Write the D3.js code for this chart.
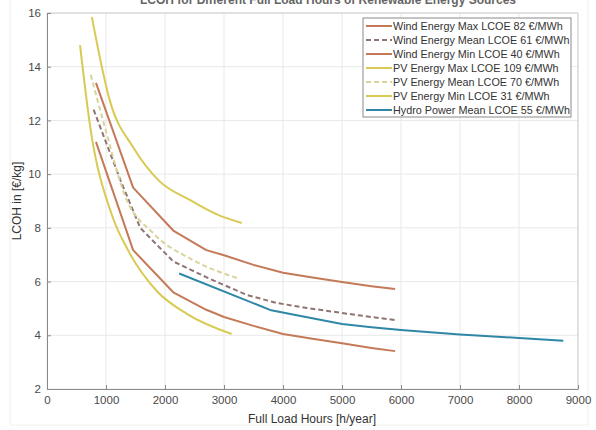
<!DOCTYPE html>
<html><head><meta charset="utf-8">
<script src="https://cdn.jsdelivr.net/npm/d3@7"></script>
<style>body{margin:0;background:#fff}svg{display:block;font-family:"Liberation Sans",Arial,sans-serif}</style>
</head><body><div id="c"></div>
<script>
// Data (full load hours [h/year], LCOH [€/kg])
const windMaxHours = [830,1460,2140,2700,3000,3500,4000,4500,5000,5500,5900];
const windMaxLcoh  = [13.4,9.5,7.9,7.17,6.98,6.62,6.33,6.15,5.98,5.83,5.72];
const windMeanHours = [790,1240,1580,2140,2760,3390,3900,4400,5000,5500,5900];
const windMeanLcoh  = [12.4,9.8,8.0,6.75,6.1,5.5,5.2,5.02,4.83,4.68,4.57];
const windMinHours = [830,1460,2140,2700,3000,3500,4000,4500,5000,5500,5900];
const windMinLcoh  = [11.2,7.17,5.6,4.95,4.68,4.35,4.05,3.87,3.7,3.53,3.41];
const pvMaxHours = [760,1070,1460,1900,2420,2880,3300];
const pvMaxLcoh  = [15.85,12.7,11.0,9.75,9.04,8.5,8.18];
const pvMeanHours = [740,1000,1320,1800,2475,3220];
const pvMeanLcoh  = [13.7,11.6,9.2,7.8,6.8,6.13];
const pvMinHours = [560,730,1100,1373,1860,2370,3130];
const pvMinLcoh  = [14.8,11.8,8.48,7.17,5.65,4.8,4.05];
const hydroHours = [2240,3800,4300,5000,5500,6000,7000,8000,8750];
const hydroLcoh  = [6.3,4.93,4.72,4.42,4.3,4.2,4.03,3.9,3.8];

const seriesNames = ["Wind Energy Max LCOE 82 €/MWh","Wind Energy Mean LCOE 61 €/MWh","Wind Energy Min LCOE 40 €/MWh",
  "PV Energy Max LCOE 109 €/MWh","PV Energy Mean LCOE 70 €/MWh","PV Energy Min LCOE 31 €/MWh","Hydro Power Mean LCOE 55 €/MWh"];
const xTicks = [0,1000,2000,3000,4000,5000,6000,7000,8000,9000];
const yTicks = [2,4,6,8,10,12,14,16];

const series = [
  {name:seriesNames[0], h:windMaxHours, v:windMaxLcoh, color:"#c47a58", dash:null, smooth:false},
  {name:seriesNames[1], h:windMeanHours, v:windMeanLcoh, color:"#8f7474", dash:"5,3", smooth:false},
  {name:seriesNames[2], h:windMinHours, v:windMinLcoh, color:"#c47a58", dash:null, smooth:false},
  {name:seriesNames[3], h:pvMaxHours, v:pvMaxLcoh, color:"#d8ca52", dash:null, smooth:true},
  {name:seriesNames[4], h:pvMeanHours, v:pvMeanLcoh, color:"#d9d49a", dash:"5,3", smooth:true},
  {name:seriesNames[5], h:pvMinHours, v:pvMinLcoh, color:"#d8ca52", dash:null, smooth:true},
  {name:seriesNames[6], h:hydroHours, v:hydroLcoh, color:"#2f87a6", dash:null, smooth:false}
];

const W=596,H=430;
const svg=d3.select("#c").append("svg").attr("width",W).attr("height",H);
svg.append("rect").attr("x",10).attr("y",-2).attr("width",578).attr("height",427).attr("fill","#fff").attr("stroke","#f0f0f0");

const x=d3.scaleLinear().domain([0,9000]).range([47,578]);
const y=d3.scaleLinear().domain([2,16]).range([389,13]);

// title (mostly clipped at top, as in the reference)
svg.append("text").attr("x",328).attr("y",4).attr("text-anchor","middle")
  .attr("font-size",12).attr("font-weight","bold").attr("fill","#666")
  .text("LCOH for Different Full Load Hours of Renewable Energy Sources");

// grid
const g=svg.append("g");
g.selectAll(".gx").data(xTicks).join("line").attr("x1",d=>x(d)).attr("x2",d=>x(d)).attr("y1",y(2)).attr("y2",y(16)).attr("stroke","#e8e8e8").attr("stroke-width",1);
g.selectAll(".gy").data(yTicks).join("line").attr("x1",x(0)).attr("x2",x(9000)).attr("y1",d=>y(d)).attr("y2",d=>y(d)).attr("stroke","#e8e8e8").attr("stroke-width",1);

// box
svg.append("line").attr("x1",x(0)).attr("x2",x(9000)).attr("y1",y(16)).attr("y2",y(16)).attr("stroke","#cfcfcf");
svg.append("line").attr("x1",x(9000)).attr("x2",x(9000)).attr("y1",y(2)).attr("y2",y(16)).attr("stroke","#cfcfcf");

// axes
const fmt=d3.format("d");
const xAxis=d3.axisBottom(x).tickValues(xTicks).tickFormat(fmt).tickSizeInner(-4).tickSizeOuter(0).tickPadding(7);
const ax=svg.append("g").attr("transform",`translate(0,${y(2)})`).call(xAxis);
const yAxis=d3.axisLeft(y).tickValues(yTicks).tickFormat(fmt).tickSizeInner(-4).tickSizeOuter(0).tickPadding(6);
const ay=svg.append("g").attr("transform",`translate(${x(0)},0)`).call(yAxis);
[ax,ay].forEach(a=>{a.select(".domain").attr("stroke","#8a8a8a");a.selectAll(".tick line").attr("stroke","#8a8a8a");
  a.selectAll("text").attr("fill","#4a4a4a").attr("font-size",11.5).attr("font-family","Liberation Sans, Arial, sans-serif");});

svg.append("text").attr("x",312).attr("y",423).attr("text-anchor","middle").attr("font-size",12).attr("fill","#333").text("Full Load Hours [h/year]");
svg.append("text").attr("transform","translate(21,201) rotate(-90)").attr("text-anchor","middle").attr("font-size",12).attr("fill","#333").text("LCOH in [€/kg]");

// lines
series.forEach(s=>{
  const pts=s.h.map((h,i)=>[h,s.v[i]]);
  const line=d3.line().x(d=>x(d[0])).y(d=>y(d[1])).curve(s.smooth?d3.curveMonotoneX:d3.curveLinear);
  svg.append("path").datum(pts).attr("d",line).attr("fill","none").attr("stroke",s.color)
    .attr("stroke-width",2).attr("stroke-dasharray",s.dash).attr("stroke-linejoin","round");
});

// legend
const lg=svg.append("g");
lg.append("rect").attr("x",363).attr("y",18).attr("width",208).attr("height",99).attr("fill","#fff").attr("stroke","#8a8a8a");
series.forEach((s,i)=>{
  const yy=26+i*14;
  lg.append("line").attr("x1",366).attr("x2",392).attr("y1",yy).attr("y2",yy).attr("stroke",s.color).attr("stroke-width",2).attr("stroke-dasharray",s.dash);
  lg.append("text").attr("x",393).attr("y",yy+4).attr("font-size",10.8).attr("fill","#333").text(s.name);
});
</script></body></html>
